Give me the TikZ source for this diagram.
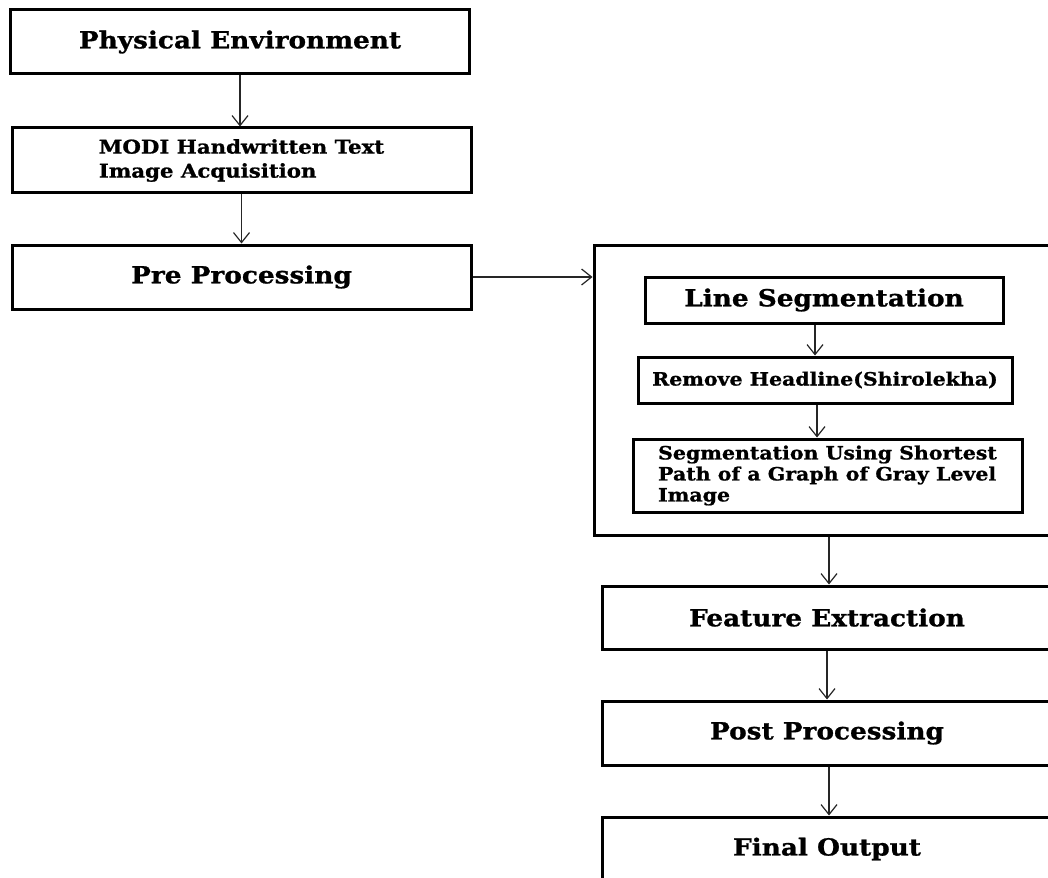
\documentclass[tikz,border=0pt]{standalone}
\usepackage{fontspec}
\setmainfont{DejaVu Serif}
\newfontfamily\widefont[FakeStretch=1.12,BoldFeatures={FakeStretch=1.12,FakeBold=1}]{DejaVu Serif}
\usetikzlibrary{arrows.meta,calc}
\begin{document}
\begin{tikzpicture}[x=1pt,y=-1pt,
  box/.style={draw=black,line width=3pt,fill=white,inner sep=0pt,anchor=center},
  big/.style={font=\widefont\fontsize{23.5}{27}\selectfont\bfseries},
  small/.style={font=\widefont\fontsize{19}{24}\selectfont\bfseries},
  smaller/.style={font=\widefont\fontsize{18.3}{21}\selectfont\bfseries},
  arr/.style={draw=black!85,line width=1.2pt,-{Straight Barb[length=10pt,width=16pt,line width=1.2pt]}}]
\clip (0,0) rectangle (1048,877);
\fill[white] (0,0) rectangle (1048,877);
% left column
\node[box,big,minimum width=459pt,minimum height=64pt] (phys) at (240,42) {Physical Environment};
\node[box,small,minimum width=459pt,minimum height=65pt,align=left] (modi) at (241.5,160.5) {MODI Handwritten Text\\Image Acquisition};
\node[box,big,minimum width=459pt,minimum height=64pt] (pre) at (241.5,277) {Pre Processing};
% right group
\node[box,minimum width=462pt,minimum height=290pt] (grp) at (825,390) {};
\node[box,big,minimum width=358pt,minimum height=46pt] (line) at (824,300) {Line Segmentation};
\node[box,smaller,minimum width=374pt,minimum height=46pt] (head) at (825,380) {Remove Headline(Shirolekha)};
\node[box,smaller,minimum width=389pt,minimum height=73pt,align=left] (seg) at (827.5,475.5) {Segmentation Using Shortest\\Path of a Graph of Gray Level\\Image};
\node[box,big,minimum width=450pt,minimum height=63pt] (feat) at (827,617.5) {Feature Extraction};
\node[box,big,minimum width=450pt,minimum height=64pt] (post) at (827,733) {Post Processing};
\node[box,big,minimum width=450pt,minimum height=64pt] (fin) at (827,849) {Final Output};
% connectors
\draw[arr] (phys.south) -- (phys.south |- modi.north);
\draw[arr] (modi.south) -- (modi.south |- pre.north);
\draw[arr] (pre.east) -- (pre.east -| grp.west);
\draw[arr] ([xshift=-9pt]line.south) -- ([xshift=-9pt]line.south |- head.north);
\draw[arr] ([xshift=-8pt]head.south) -- ([xshift=-8pt]head.south |- seg.north);
\draw[arr] ([xshift=4pt]grp.south) -- ([xshift=4pt]grp.south |- feat.north);
\draw[arr] (feat.south) -- (feat.south |- post.north);
\draw[arr] ([xshift=2pt]post.south) -- ([xshift=2pt]post.south |- fin.north);
\end{tikzpicture}
\end{document}
